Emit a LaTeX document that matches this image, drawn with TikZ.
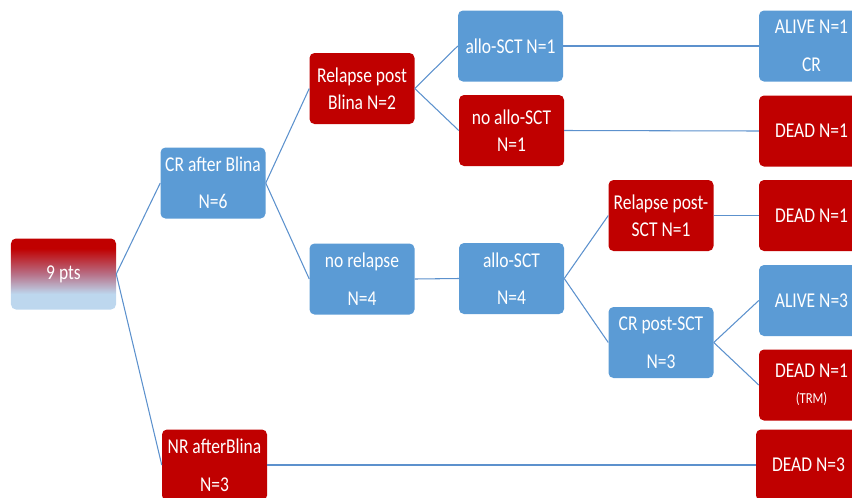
\documentclass[tikz,border=0pt]{standalone}
\usepackage{fontspec}
\setmainfont{Carlito}[FakeStretch=0.83]
\usepackage{tikz}
\usetikzlibrary{positioning}
\definecolor{boxred}{RGB}{192,0,0}
\definecolor{boxblue}{RGB}{91,155,213}
\definecolor{paleblue}{RGB}{189,215,238}
\definecolor{mauve}{RGB}{183,112,135}
\definecolor{linkblue}{RGB}{92,145,205}
\pgfdeclareverticalshading{redtoblue}{100bp}{color(0bp)=(paleblue); color(36bp)=(paleblue);
  color(50bp)=(mauve); color(68bp)=(boxred); color(100bp)=(boxred)}
\tikzset{
  block/.style={rectangle, rounded corners=0.15cm, draw=none, text=white, inner sep=0pt,
                minimum width=3.15cm, minimum height=2.13cm, align=center,
                font=\fontsize{18}{23}\selectfont},
  blockred/.style={block, fill=boxred},
  blockblue/.style={block, fill=boxblue},
  blockgrad/.style={block, shading=redtoblue},
  spread/.style={font=\fontsize{18}{32}\selectfont},
  branch/.style={draw=linkblue, line width=0.9pt},
}
\begin{document}
\begin{tikzpicture}[x=0.03cm, y=-0.03cm]
\useasboundingbox (0,0) rectangle (852,497);
% first split
\node[blockgrad] (pts) at (63.5,274) {9 pts};
\node[blockblue, spread] (crb) at (213,183) {CR after Blina\\N=6};
\node[blockred, spread] (nrb) at (214.5,465) {NR afterBlina\\N=3};
% after CR
\node[blockred] (rpb) at (362,88.5) {Relapse post\\Blina N=2};
\node[blockblue, spread] (nrel) at (362,279) {no relapse\\N=4};
\node[blockblue] (asct1) at (510.5,46) {allo-SCT N=1};
\node[blockred] (nasct) at (511.5,130.5) {no allo-SCT\\N=1};
\node[blockblue, spread] (asct4) at (511.5,278.5) {allo-SCT\\N=4};
\node[blockred] (rps) at (661,215.5) {Relapse post-\\SCT N=1};
\node[blockblue, spread] (cps) at (661,342.5) {CR post-SCT\\N=3};
% outcomes
\node[blockblue, spread] (alive1) at (811.5,46) {ALIVE N=1\\CR};
\node[blockred] (dead1) at (811.5,131) {DEAD N=1};
\node[blockred] (dead2) at (811.5,215.5) {DEAD N=1};
\node[blockblue] (alive3) at (811.5,300.5) {ALIVE N=3};
\node[blockred, font=\fontsize{18}{22}\selectfont] (deadtrm) at (811.5,385) {DEAD N=1\\{\fontsize{13}{14}\selectfont (TRM)}};
\node[blockred] (dead3) at (808.5,465) {DEAD N=3};
% connectors
\draw[branch] (pts.east) -- (crb.west);
\draw[branch] (pts.east) -- (nrb.west);
\draw[branch] (crb.east) -- (rpb.west);
\draw[branch] (crb.east) -- (nrel.west);
\draw[branch] (rpb.east) -- (asct1.west);
\draw[branch] (rpb.east) -- (nasct.west);
\draw[branch] (nrel.east) -- (asct4.west);
\draw[branch] (asct4.east) -- (rps.west);
\draw[branch] (asct4.east) -- (cps.west);
\draw[branch] (asct1.east) -- (alive1.west);
\draw[branch] (nasct.east) -- (dead1.west);
\draw[branch] (rps.east) -- (dead2.west);
\draw[branch] (cps.east) -- (alive3.west);
\draw[branch] (cps.east) -- (deadtrm.west);
\draw[branch] (nrb.east) -- (dead3.west);
\end{tikzpicture}
\end{document}
